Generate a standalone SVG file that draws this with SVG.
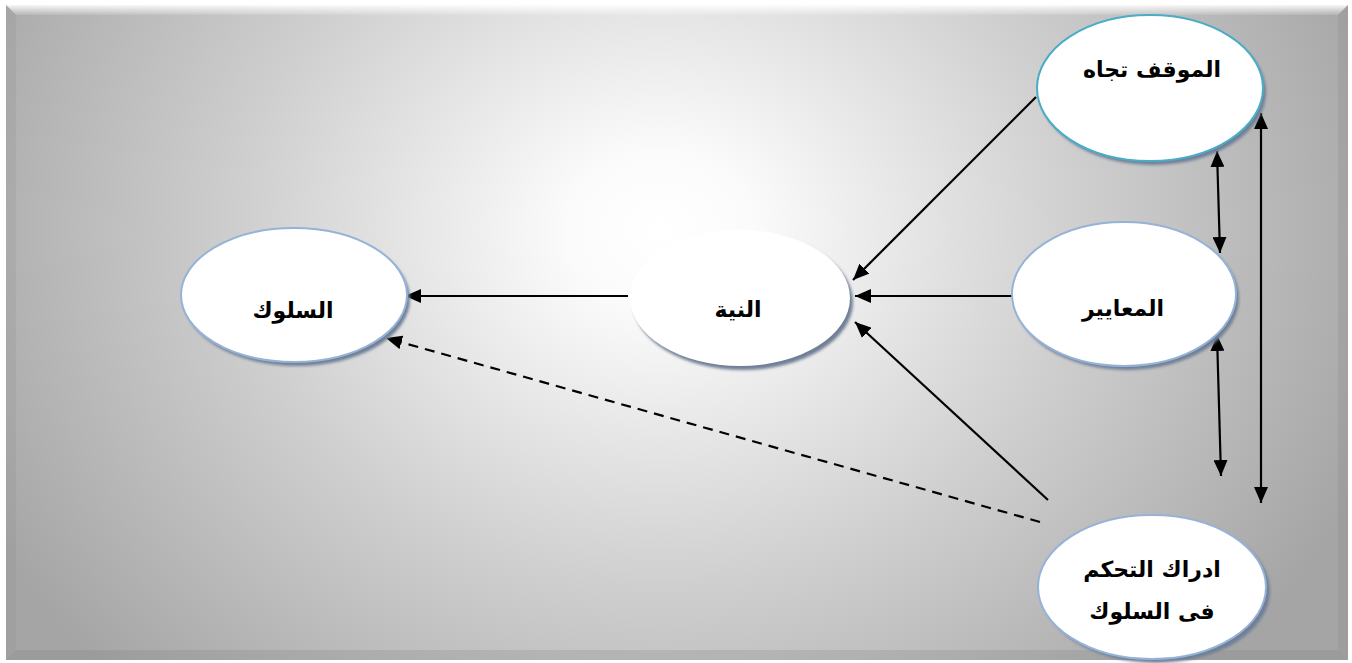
<svg xmlns="http://www.w3.org/2000/svg" width="1352" height="663" viewBox="0 0 1352 663">
<defs>
<radialGradient id="bg" gradientUnits="userSpaceOnUse" cx="660" cy="230" r="760" gradientTransform="translate(660 230) scale(1 0.85) translate(-660 -230)">
<stop offset="0" stop-color="#ffffff"/>
<stop offset="0.12" stop-color="#fbfbfb"/>
<stop offset="0.55" stop-color="#cfcfcf"/>
<stop offset="1" stop-color="#a5a5a5"/>
</radialGradient>
<linearGradient id="topBevel" x1="0" y1="0" x2="0" y2="1">
<stop offset="0" stop-color="#ffffff" stop-opacity="0.9"/>
<stop offset="1" stop-color="#ffffff" stop-opacity="0.1"/>
</linearGradient>
<filter id="blur" x="-10%" y="-10%" width="120%" height="120%">
<feGaussianBlur stdDeviation="1.5"/>
</filter>
<marker id="ah" viewBox="0 0 16 14" refX="16" refY="7" markerWidth="16" markerHeight="14" markerUnits="userSpaceOnUse" orient="auto-start-reverse">
<path d="M0,0 L16,7 L0,14 Z" fill="#000"/>
</marker>
</defs>
<style>
.node{fill:#ffffff;stroke:#95b3d7;stroke-width:2}
.shadow{fill:#6f7f96;filter:url(#blur)}
.lbl{font-family:"DejaVu Sans",sans-serif;font-weight:bold;font-size:22px;fill:#000;text-anchor:middle}
.ln{stroke:#000;stroke-width:2.2;fill:none}
</style>
<rect x="0" y="0" width="1352" height="663" fill="#ffffff"/>
<rect x="6" y="5" width="1342" height="655" fill="url(#bg)"/>
<polygon points="6,5 1348,5 1338,15 16,15" fill="url(#topBevel)"/>
<polygon points="6,5 16,15 16,650 6,660" fill="#8c8c8c" opacity="0.2"/>
<polygon points="1348,5 1338,15 1338,650 1348,660" fill="#7a7a7a" opacity="0.18"/>
<polygon points="6,660 16,650 1338,650 1348,660" fill="#7a7a7a" opacity="0.22"/>

<g id="connectors">
<line class="ln" x1="628" y1="296" x2="405" y2="296" marker-end="url(#ah)"/>
<line class="ln" x1="1040" y1="522" x2="386" y2="338" stroke-dasharray="10,7" marker-end="url(#ah)"/>
<line class="ln" x1="1036" y1="97" x2="853" y2="280" marker-end="url(#ah)"/>
<line class="ln" x1="1012" y1="296" x2="855" y2="296" marker-end="url(#ah)"/>
<line class="ln" x1="1048" y1="500" x2="855" y2="322" marker-end="url(#ah)"/>
<line class="ln" x1="1217" y1="151" x2="1220" y2="253" marker-start="url(#ah)" marker-end="url(#ah)"/>
<line class="ln" x1="1217" y1="335" x2="1221" y2="476" marker-start="url(#ah)" marker-end="url(#ah)"/>
<line class="ln" x1="1261" y1="113" x2="1261" y2="503" marker-start="url(#ah)" marker-end="url(#ah)"/>
</g>

<g id="node-behavior">
<ellipse class="shadow" cx="297" cy="299" rx="113" ry="67"/>
<ellipse class="node" cx="294" cy="295" rx="113" ry="67"/>
<text class="lbl" x="293" y="318">السلوك</text>
</g>

<g id="node-intention">
<ellipse class="shadow" cx="743" cy="302" rx="110" ry="68"/>
<ellipse cx="740" cy="298" rx="110" ry="68" fill="#ffffff"/>
<text class="lbl" x="738" y="317">النية</text>
</g>

<g id="node-attitude">
<ellipse class="shadow" cx="1153" cy="92" rx="113" ry="73"/>
<ellipse class="node" cx="1150" cy="88" rx="113" ry="73" style="stroke:#4bacc6"/>
<text class="lbl" x="1152" y="77">الموقف تجاه</text>
</g>

<g id="node-norms">
<ellipse class="shadow" cx="1127" cy="298" rx="112" ry="72"/>
<ellipse class="node" cx="1124" cy="294" rx="112" ry="72"/>
<text class="lbl" x="1123" y="316">المعايير</text>
</g>

<g id="node-control">
<ellipse class="shadow" cx="1156" cy="591" rx="114" ry="72"/>
<ellipse class="node" cx="1152" cy="587" rx="114" ry="72"/>
<text class="lbl" x="1152" y="577">ادراك التحكم</text>
<text class="lbl" x="1152" y="619">فى السلوك</text>
</g>
</svg>
